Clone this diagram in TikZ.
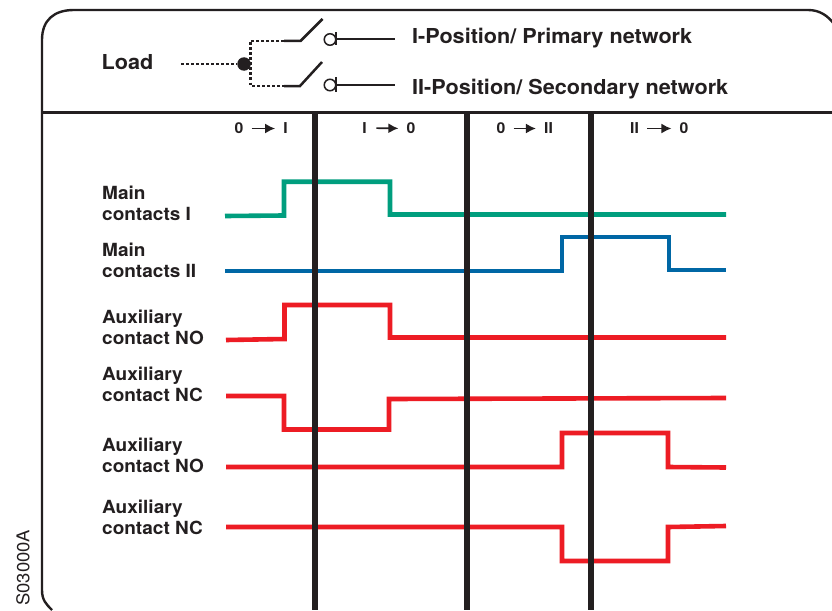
\documentclass[tikz,border=0pt]{standalone}
\usepackage{fontspec}
\setmainfont[FakeStretch=1.05]{TeX Gyre Heros}
\usetikzlibrary{arrows.meta}
\definecolor{ink}{HTML}{231F20}
\definecolor{grn}{HTML}{009E7E}
\definecolor{blu}{HTML}{0067A5}
\definecolor{rd}{HTML}{ED1C24}
\tikzset{
  x=1pt,y=-1pt,
  lab/.style={font=\fontsize{18.1}{21}\selectfont\bfseries,text=ink,anchor=west,align=left,inner sep=0pt},
  head/.style={font=\fontsize{20.6}{24}\selectfont\bfseries,text=ink,anchor=west,inner sep=0pt},
  trn/.style={font=\fontsize{15}{18}\selectfont\bfseries,text=ink,inner sep=0pt},
  trnarrow/.style={draw=ink,line width=1.7pt,-{Latex[length=10pt,width=10pt]},shorten >=8pt,shorten <=8pt},
  frame/.style={draw=ink,line width=2.4pt},
  divider/.style={draw=ink,line width=5.4pt},
  wave/.style={line width=4.6pt,line join=miter},
  dots/.style={draw=ink,line width=2.6pt,dash pattern=on 2.6pt off 2.4pt},
  sw/.style={draw=ink,line width=2.5pt}
}
\begin{document}
\begin{tikzpicture}
\useasboundingbox (0,0) rectangle (832,610);
\fill[white] (0,0) rectangle (832,610);
% frame
\draw[frame] (52,610) .. controls (46,604) and (42,600) .. (42,590) -- (42,40)
  .. controls (42,20) and (54,10) .. (74,10) -- (808,10)
  .. controls (820,10) and (828,16) .. (834,24);
\draw[frame,line width=2.8pt] (42,112.5) -- (832,112.5);
% switch
\coordinate (in) at (181,64);
\coordinate (junc) at (244,64);
\coordinate (ta) at (250.5,41);
\coordinate (tb) at (250.5,86);
\coordinate (ua) at (284,41);
\coordinate (ub) at (284,86);
\coordinate (va) at (300.5,41);
\coordinate (vb) at (300,86);
\coordinate (wa) at (322.5,19);
\coordinate (wb) at (322,62);
\node[circle,fill=ink,minimum size=13.5pt,inner sep=0pt] (jdot) at (junc) {};
\draw[dots] (in) -- (jdot);
\draw[dots] (ua) -- (ta) -- (tb) -- (ub);
\draw[sw] (ua) -- (va) -- (wa);
\draw[sw] (ub) -- (vb) -- (wb);
\node[circle,draw=ink,line width=1.5pt,minimum size=11.5pt,inner sep=0pt] (ca) at (330,39.5) {};
\node[circle,draw=ink,line width=1.5pt,minimum size=11.5pt,inner sep=0pt] (cb) at (330,85) {};
\coordinate (ba) at (336,39);
\coordinate (bb) at (336,85);
\coordinate (ea) at (395,39);
\coordinate (eb) at (395,85);
\draw[sw,line width=2.8pt] (ba) ++(0,-6.5) -- ++(0,13);
\draw[sw,line width=2.8pt] (bb) ++(0,-8) -- ++(0,15);
\draw[sw] (ba) -- (ea);
\draw[sw] (bb) -- (eb);
% header text
\node[head] (load) at (101.5,62) {Load};
\node[head] (pa) at (412,38.5) {I-Position/ Primary network};
\node[head] (pb) at (412,89.5) {II-Position/ Secondary network};
% transitions
\node[trn] (a0) at (239,128.5) {0};
\node[trn] (a1) at (285.5,128.5) {I};
\draw[trnarrow] (a0) -- (a1);
\node[trn] (b0) at (364.5,128) {I};
\node[trn] (b1) at (411,128.5) {0};
\draw[trnarrow,shorten <=9.5pt] (b0) -- (b1);
\node[trn] (c0) at (501,128.5) {0};
\node[trn] (c1) at (548.5,128.5) {II};
\draw[trnarrow] (c0) -- (c1);
\node[trn] (d0) at (634.5,128.5) {II};
\node[trn] (d1) at (684,128.5) {0};
\draw[trnarrow] (d0) -- (d1);
% labels
\node[lab] (l1) at (102,203.2) {Main\\contacts I};
\node[lab] (l2) at (102,260.2) {Main\\contacts II};
\node[lab] (l3) at (102,327.2) {Auxiliary\\contact NO};
\node[lab] (l4) at (102,384.2) {Auxiliary\\contact NC};
\node[lab] (l5) at (102,455.2) {Auxiliary\\contact NO};
\node[lab] (l6) at (102,517.2) {Auxiliary\\contact NC};
\node[font=\fontsize{17.6}{20}\selectfont,text=ink,rotate=90,anchor=west,inner sep=0pt] (code) at (23,606) {S03000A};
% waves
\draw[wave,grn] (225,216) -- (284,215.5) -- (284,181.7) -- (390,181.7) -- (390,214.5) -- (726,214.5);
\draw[wave,blu] (225,271) -- (562,271) -- (562,237) -- (669,237) -- (669,270) -- (726,270);
\draw[wave,rd] (226,340) -- (284.5,339) -- (284.5,305) -- (390,305) -- (390,337.5) -- (726,337.5);
\draw[wave,rd] (226,396) -- (284,396) -- (284,429.5) -- (389,429.5) -- (389,399) -- (726,398);
\draw[wave,rd] (226,467) -- (562,467) -- (562,433) -- (668,433) -- (668,467) -- (726,467.5);
\draw[wave,rd] (226,527) -- (562,527) -- (562,561) -- (668,561) -- (668,527) -- (726,526);
% dividers pass over the waves
\foreach \x in {315,467,591} \draw[divider] (\x,112) -- (\x,610);
\end{tikzpicture}
\end{document}
